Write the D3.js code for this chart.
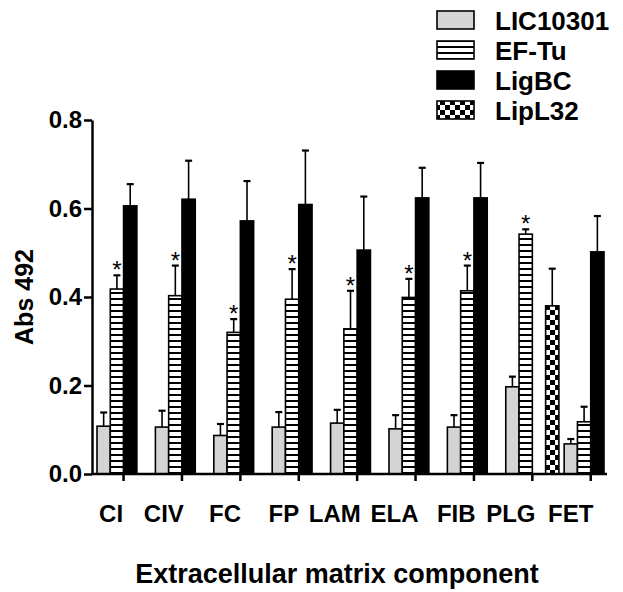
<!DOCTYPE html>
<html>
<head>
<meta charset="utf-8">
<script src="https://cdn.jsdelivr.net/npm/d3@7"></script>
<style>
  body { margin: 0; background: #fff; }
  svg { font-family: "Liberation Sans", Arial, sans-serif; }
</style>
</head>
<body>
<svg class="svg_chart" width="623" height="592"></svg>
<script>
// values (mean and upper error bar length)
var categories = ["CI", "CIV", "FC", "FP", "LAM", "ELA", "FIB", "PLG", "FET"];
var seriesNames = ["LIC10301", "EF-Tu", "LigBC", "LipL32"];

var lic10301    = [0.108, 0.106, 0.087, 0.106, 0.115, 0.102, 0.106, 0.197, 0.068];
var lic10301Err = [0.031, 0.037, 0.026, 0.034, 0.030, 0.031, 0.027, 0.023, 0.011];
var efTu        = [0.418, 0.403, 0.320, 0.395, 0.328, 0.399, 0.414, 0.542, 0.118];
var efTuErr     = [0.031, 0.068, 0.030, 0.068, 0.086, 0.042, 0.057, 0.011, 0.034];
var ligBC       = [0.606, 0.621, 0.572, 0.609, 0.506, 0.624, 0.624, null, 0.502];
var ligBCErr    = [0.049, 0.087, 0.090, 0.122, 0.121, 0.068, 0.079, null, 0.081];
var lipL32      = [null, null, null, null, null, null, null, 0.380, null];
var lipL32Err   = [null, null, null, null, null, null, null, 0.084, null];
var efTuStar    = [true, true, true, true, true, true, true, true, false];

var yTicks = [0.0, 0.2, 0.4, 0.6, 0.8];

var svg = d3.select(".svg_chart");

var values = [lic10301, efTu, ligBC, lipL32];
var errors = [lic10301Err, efTuErr, ligBCErr, lipL32Err];
var fills = ["#d4d4d4", "url(#hlines)", "#000", "url(#checker)"];

// patterns for the hatched and checkered bars
var defs = svg.append("defs");
var hl = defs.append("pattern").attr("id", "hlines")
    .attr("patternUnits", "userSpaceOnUse").attr("width", 6).attr("height", 6);
hl.append("rect").attr("width", 6).attr("height", 6).attr("fill", "#fff");
hl.append("rect").attr("y", 4).attr("width", 6).attr("height", 2).attr("fill", "#000");

var ck = defs.append("pattern").attr("id", "checker")
    .attr("patternUnits", "userSpaceOnUse").attr("width", 10).attr("height", 10);
ck.append("rect").attr("width", 10).attr("height", 10).attr("fill", "#fff");
ck.append("rect").attr("width", 5).attr("height", 5).attr("fill", "#000");
ck.append("rect").attr("x", 5).attr("y", 5).attr("width", 5).attr("height", 5).attr("fill", "#000");

var x = d3.scaleBand().domain(categories).range([97, 617.3]).paddingInner(0.09).paddingOuter(0);
var xs = d3.scaleBand().domain(seriesNames).range([0, x.bandwidth()]).padding(0);
var y = d3.scaleLinear().domain([0, 0.8]).range([474, 120]);

// bars
var barData = [];
seriesNames.forEach(function(s, si) {
    categories.forEach(function(c, ci) {
        if (values[si][ci] != null) {
            barData.push({cat: c, ser: s, si: si, v: values[si][ci], e: errors[si][ci], star: si == 1 && efTuStar[ci]});
        }
    });
});

var bars = svg.append("g");
bars.selectAll("rect").data(barData).enter().append("rect")
    .attr("x", function(d) { return x(d.cat) + xs(d.ser); })
    .attr("y", function(d) { return y(d.v); })
    .attr("width", xs.bandwidth())
    .attr("height", function(d) { return y(0) - y(d.v); })
    .attr("fill", function(d) { return fills[d.si]; })
    .attr("stroke", "#000")
    .attr("stroke-width", 1.6);

// error bars (upper only)
var err = svg.append("g").attr("stroke", "#000").attr("stroke-width", 1.6);
barData.forEach(function(d) {
    var cx = x(d.cat) + xs(d.ser) + xs.bandwidth() / 2;
    err.append("line").attr("x1", cx).attr("x2", cx)
        .attr("y1", y(d.v)).attr("y2", y(d.v + d.e));
    err.append("line").attr("x1", cx - 3.5).attr("x2", cx + 3.5)
        .attr("y1", y(d.v + d.e)).attr("y2", y(d.v + d.e)).attr("stroke-width", 2.2);
});

// significance stars
svg.append("g").selectAll("text").data(barData.filter(function(d) { return d.star; }))
    .enter().append("text")
    .attr("x", function(d) { return x(d.cat) + xs(d.ser) + xs.bandwidth() / 2; })
    .attr("y", function(d) { return y(d.v + d.e) + 3; })
    .attr("text-anchor", "middle")
    .attr("font-size", 24)
    .text("*");

// y axis
var yAxis = svg.append("g").attr("transform", "translate(92,0)")
    .call(d3.axisLeft(y).tickValues(yTicks).tickFormat(d3.format(".1f")).tickSize(8).tickSizeOuter(0));
yAxis.select(".domain").attr("stroke-width", 2.5);
yAxis.selectAll(".tick line").attr("stroke-width", 2.5);
yAxis.selectAll(".tick text").attr("font-size", 24).attr("font-weight", "bold")
    .attr("font-family", "Liberation Sans, Arial, sans-serif").attr("fill", "#000").attr("x", -10);

// x axis: line and ticks from the axis
var xAxis = svg.append("g").attr("transform", "translate(0,474)")
    .call(d3.axisBottom(x).tickSize(7).tickSizeOuter(0).tickFormat(""));
xAxis.select(".domain").remove();
xAxis.append("line").attr("x1", 92).attr("x2", 607).attr("stroke", "#000").attr("stroke-width", 2.5);
xAxis.selectAll(".tick line").attr("stroke-width", 2.5);

// category labels: diagonal text gets drawn flat here, so each label is
// shifted left to where the slanted label of the original is centred
var capH = 17;
var xLabels = svg.append("g").selectAll("text").data(categories).enter().append("text")
    .attr("text-anchor", "middle")
    .attr("font-size", 24).attr("font-weight", "bold")
    .attr("y", 522)
    .text(function(d) { return d; });
xLabels.each(function(d) {
    var w = this.getComputedTextLength();
    var px = x(d) + x.bandwidth() / 2 + 2;
    d3.select(this).attr("x", px - Math.SQRT1_2 * (w + capH) / 2);
});

// axis titles
svg.append("text")
    .attr("transform", "translate(33,297) rotate(-90)")
    .attr("text-anchor", "middle")
    .attr("font-size", 25).attr("font-weight", "bold")
    .text("Abs 492");

svg.append("text")
    .attr("x", 337).attr("y", 583)
    .attr("text-anchor", "middle")
    .attr("font-size", 27).attr("font-weight", "bold")
    .text("Extracellular matrix component");

// legend
var legend = svg.append("g");
seriesNames.forEach(function(s, i) {
    var ly = 11 + 30 * i;
    legend.append("rect").attr("x", 437).attr("y", ly).attr("width", 37).attr("height", 18)
        .attr("fill", fills[i]).attr("stroke", "#000").attr("stroke-width", 1.6);
    legend.append("text").attr("x", 495).attr("y", ly + 19)
        .attr("font-size", 26).attr("font-weight", "bold")
        .text(s);
});
</script>
</body>
</html>
